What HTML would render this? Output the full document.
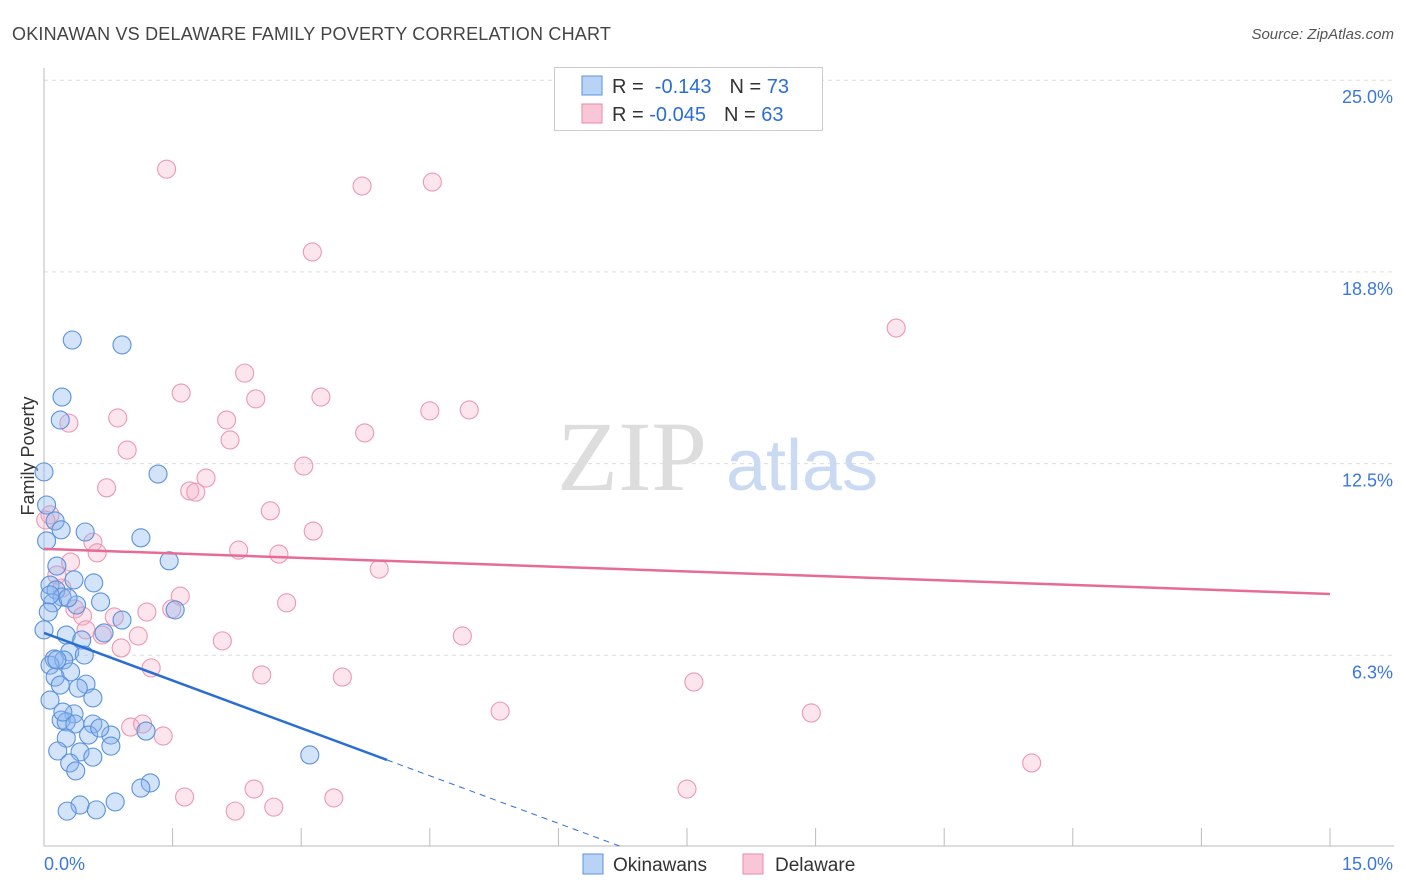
<!DOCTYPE html>
<html><head><meta charset="utf-8"><style>
body{margin:0;background:#fff;font-family:"Liberation Sans",sans-serif;}
#wrap{position:relative;width:1406px;height:892px;overflow:hidden;}
</style></head><body>
<div id="wrap">
<svg id="svg" width="1406" height="892" xmlns="http://www.w3.org/2000/svg">
<text x="12" y="40" font-size="18" fill="#444" style="letter-spacing:0.2px">OKINAWAN VS DELAWARE FAMILY POVERTY CORRELATION CHART</text>
<text x="1394" y="39" font-size="15" fill="#555" font-style="italic" text-anchor="end">Source: ZipAtlas.com</text>
<text x="34" y="456" font-size="18" fill="#333" text-anchor="middle" transform="rotate(-90 34 456)">Family Poverty</text>
<g>
<text x="632" y="490" font-size="100" fill="#ddd" text-anchor="middle" font-family="Liberation Serif,serif">ZIP</text>
<text x="802" y="490" font-size="72" fill="#c9daf2" text-anchor="middle">atlas</text>
</g>
<g id="grid"></g>
<g id="marks"></g>
<g>
<rect x="554.5" y="67.5" width="268" height="63" fill="#fff" stroke="#ccc"/>
<rect x="582" y="76" width="20" height="19" fill="#b9d3f6" stroke="#5b93dc"/>
<rect x="582" y="104" width="20" height="19" fill="#f9c6d5" stroke="#e889a6"/>
<text x="612" y="93" font-size="20" fill="#333">R = <tspan fill="#2a6ed4">&#160;-0.143</tspan><tspan dx="18">N = </tspan><tspan fill="#2a6ed4">73</tspan></text>
<text x="612" y="121" font-size="20" fill="#333">R = <tspan fill="#2a6ed4">-0.045</tspan><tspan dx="18">N = </tspan><tspan fill="#2a6ed4">63</tspan></text>
</g>
<g>
<rect x="583" y="854" width="20" height="20" fill="#b9d3f6" stroke="#5b93dc"/>
<text x="613" y="871" font-size="19" fill="#333">Okinawans</text>
<rect x="743" y="854" width="20" height="20" fill="#f9c6d5" stroke="#e889a6"/>
<text x="775" y="871" font-size="19" fill="#333">Delaware</text>
</g>
</svg>
</div>
<script>
const yTicks=[6.25,12.5,18.75,25];
const yTickLabels=["6.3%","12.5%","18.8%","25.0%"];
const xTicks=[0,1.5,3,4.5,6,7.5,9,10.5,12,13.5,15];
const blueX=[0,0.03,0.13,0.2,0.48,1.13,0.03,1.46,0.15,0.35,0.07,0.14,0.21,0.1,0.38,0.66,1.53,0.91,0.7,0.26,0.44,0.3,0.47,0.12,0.23,0.07,0.31,0.13,0.49,0.19,0.57,0.07,0.35,0.2,0.26,0.36,0.57,0.52,0.78,0.26,0.16,0.42,0.78,0.57,0.3,0.37,3.1,1.24,1.13,0.83,0.42,0.27,0.61,1.19,0.33,0.91,0.21,0.19,1.33,0.58,0.07,0.28,0,0.05,0.4,0.65,0.15,0.22];
const blueY=[12.23,11.15,10.63,10.34,10.27,10.08,9.98,9.33,9.16,8.71,8.54,8.38,8.15,7.96,7.89,7.99,7.73,7.4,6.98,6.91,6.75,6.36,6.26,6.13,6.1,5.93,5.71,5.54,5.31,5.28,4.86,4.79,4.34,4.14,4.08,4.01,4.01,3.65,3.65,3.55,3.13,3.1,3.29,2.93,2.74,2.48,3.0,2.09,1.92,1.47,1.37,1.17,1.21,3.78,16.53,16.37,14.67,13.92,12.16,8.61,8.22,8.12,7.08,7.66,5.18,3.88,6.1,4.4];
const pinkX=[1.43,3.71,4.53,3.13,9.94,2.34,1.6,2.47,3.23,4.5,4.96,0.86,2.13,0.29,3.74,2.17,0.97,3.03,1.89,0.73,1.7,1.77,2.64,0.07,3.14,0.57,2.27,0.62,2.74,0.31,3.91,0.15,0.21,1.59,2.83,0.36,1.49,1.2,0.45,0.82,0.49,0.68,1.1,4.88,2.08,0.9,1.25,2.54,3.48,7.58,5.32,8.95,1.01,1.15,1.39,11.52,1.64,2.45,3.38,7.5,2.68,2.23,0.02];
const pinkY=[22.1,21.55,21.68,19.4,16.92,15.45,14.8,14.61,14.67,14.22,14.25,13.99,13.92,13.82,13.5,13.27,12.94,12.42,12.03,11.71,11.61,11.57,10.96,10.83,10.3,9.94,9.68,9.59,9.55,9.29,9.06,8.87,8.44,8.18,7.96,7.76,7.76,7.66,7.53,7.5,7.08,6.91,6.88,6.88,6.72,6.49,5.84,5.61,5.54,5.38,4.43,4.37,3.91,4.01,3.62,2.74,1.63,1.89,1.6,1.89,1.3,1.17,10.66];
const blueTrend=[6.98,-1.035];
const blueSolidEnd=4.0;
const pinkTrend=[9.72,-0.098];

const NS="http://www.w3.org/2000/svg";
const X=v=>44+v*(1286/15);
const Y=v=>847-v*(191.7/6.25);
function mk(tag,attrs,parent){const e=document.createElementNS(NS,tag);for(const k in attrs)e.setAttribute(k,attrs[k]);parent.appendChild(e);return e;}
const grid=document.getElementById('grid'),marks=document.getElementById('marks');
yTicks.forEach((t,i)=>{
 const l=mk('line',{x1:44,x2:1394,y1:Y(t),y2:Y(t),stroke:'#ddd','stroke-dasharray':'4,4'},grid);
 
 
 const tx=mk('text',{x:1393,y:Y(t)+23,'font-size':18,fill:'#3b78d8','text-anchor':'end'},grid);
 tx.textContent=yTickLabels[i];
 
 
});
const ax=mk('line',{x1:44,x2:44,y1:68,y2:846,stroke:'#bbb'},grid);


const bx=mk('line',{x1:44,x2:1394,y1:846,y2:846,stroke:'#bbb'},grid);


xTicks.forEach(t=>{
 const l=mk('line',{x1:X(t),x2:X(t),y1:828,y2:846,stroke:'#bbb'},grid);
 
 
});
const xl0=mk('text',{x:44,y:870,'font-size':18,fill:'#3b78d8'},grid);xl0.textContent=xTicks[0].toFixed(1)+'%';


const xl1=mk('text',{x:1393,y:870,'font-size':18,fill:'#3b78d8','text-anchor':'end'},grid);xl1.textContent=xTicks[xTicks.length-1].toFixed(1)+'%';



pinkX.forEach((x,i)=>{
 const c=mk('circle',{cx:X(x),cy:Y(pinkY[i]),r:9,fill:'rgba(246,170,195,0.3)',stroke:'#ec98b2','stroke-width':1.1},marks);
 
 
});
blueX.forEach((x,i)=>{
 const c=mk('circle',{cx:X(x),cy:Y(blueY[i]),r:9,fill:'rgba(140,182,238,0.38)',stroke:'#5a92dc','stroke-width':1.1},marks);
 
 
});
const pl=mk('line',{x1:X(0),y1:Y(pinkTrend[0]),x2:X(15),y2:Y(pinkTrend[0]+pinkTrend[1]*15),stroke:'#e66b95','stroke-width':2.5},marks);


const bl=mk('line',{x1:X(0),y1:Y(blueTrend[0]),x2:X(blueSolidEnd),y2:Y(blueTrend[0]+blueTrend[1]*blueSolidEnd),stroke:'#2a6ed4','stroke-width':2.5},marks);


const zx=-blueTrend[0]/blueTrend[1];
const bd=mk('line',{x1:X(blueSolidEnd),y1:Y(blueTrend[0]+blueTrend[1]*blueSolidEnd),x2:X(zx),y2:Y(0),stroke:'#2a6ed4','stroke-width':1,'stroke-dasharray':'6,5'},marks);


</script>
</body></html>
